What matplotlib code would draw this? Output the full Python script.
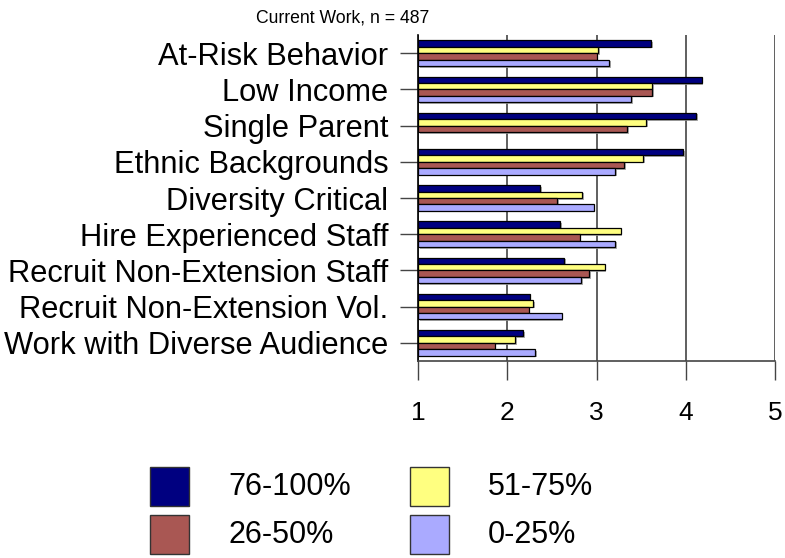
import matplotlib
matplotlib.use("Agg")
from matplotlib import pyplot as plt
from matplotlib.patches import Rectangle
import matplotlib.patheffects as pe
import numpy as np

plt.rcParams['font.family'] = ['Liberation Sans', 'DejaVu Sans']

categories = ["At-Risk Behavior", "Low Income", "Single Parent", "Ethnic Backgrounds",
              "Diversity Critical", "Hire Experienced Staff", "Recruit Non-Extension Staff",
              "Recruit Non-Extension Vol.", "Work with Diverse Audience"]
series_names = ["76-100%", "51-75%", "26-50%", "0-25%"]
v_76_100 = [3.61, 4.18, 4.12, 3.97, 2.37, 2.59, 2.64, 2.25, 2.18]
v_51_75 = [3.02, 3.62, 3.56, 3.52, 2.84, 3.27, 3.09, 2.29, 2.09]
v_26_50 = [3.00, 3.62, 3.34, 3.31, 2.56, 2.81, 2.92, 2.24, 1.86]
v_0_25 = [3.14, 3.39, np.nan, 3.21, 2.97, 3.21, 2.83, 2.61, 2.31]
series = [v_76_100, v_51_75, v_26_50, v_0_25]
colors = ["#000080", "#FFFF80", "#A95753", "#AAAAFF"]

W, H = 785, 558
fig = plt.figure(figsize=(W / 100, H / 100), dpi=100)
ax = fig.add_axes([418 / W, 1 - 361 / H, (775 - 418) / W, (361 - 35) / H])

y = np.arange(len(categories))
bh = 0.177
offsets = [-1.5 * bh, -0.5 * bh, 0.5 * bh, 1.5 * bh]
shadow = [pe.SimplePatchShadow(offset=(1.2, -1.2), shadow_rgbFace="#999999", alpha=0.8), pe.Normal()]
for vals, off, c in zip(series, offsets, colors):
    vals = np.array(vals, dtype=float)
    bars = ax.barh(y + off, vals - 1, left=1, height=bh, color=c,
                   edgecolor="black", linewidth=0.9, zorder=3)
    for b in bars:
        b.set_path_effects(shadow)

ax.set_xlim(1, 5)
ax.set_ylim(len(categories) - 0.5, -0.5)
ax.set_xticks([1, 2, 3, 4, 5])
ax.set_xticklabels(["1", "2", "3", "4", "5"], fontsize=19)
ax.set_yticks(y)
ax.set_yticklabels(categories, fontsize=22.2)
ax.tick_params(axis="x", length=14, width=1, color="#444444", pad=15)
ax.tick_params(axis="y", length=13, width=1, color="#444444", pad=8.5)
ax.xaxis.grid(True, color="#444444", linewidth=1.2, zorder=0)
for s in ["top", "right"]:
    ax.spines[s].set_visible(False)
ax.spines["left"].set_color("black")
ax.spines["left"].set_linewidth(1.2)
ax.spines["bottom"].set_color("#444444")
ax.spines["bottom"].set_linewidth(1.2)

fig.text(343 / W, 1 - 18 / H, "Current Work, n = 487", fontsize=12.7, ha="center", va="center")

# legend
leg_pos = [(150, 467), (410, 467), (150, 515), (410, 515)]
for (lx, ly), i in zip(leg_pos, range(4)):
    fig.add_artist(Rectangle((lx / W, 1 - (ly + 39) / H), 39 / W, 39 / H,
                             transform=fig.transFigure, facecolor=colors[i],
                             edgecolor="#333333", linewidth=1))
    fig.text((lx + 78) / W, 1 - (ly + 20) / H, series_names[i], fontsize=22,
             ha="left", va="center")

fig.savefig("out.png", dpi=100)
